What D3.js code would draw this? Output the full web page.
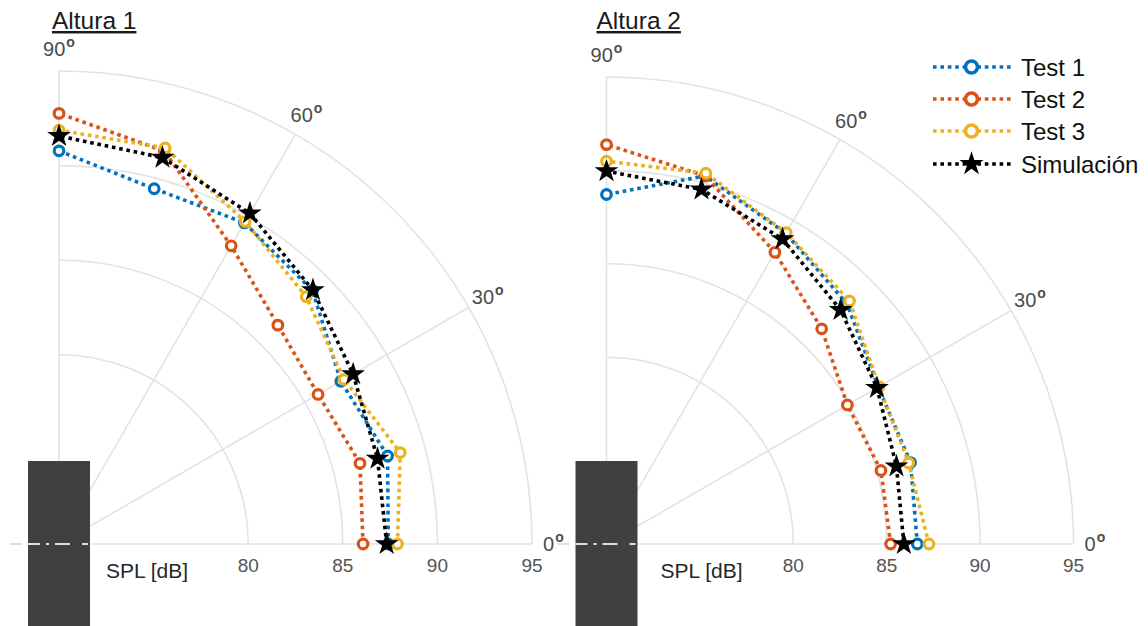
<!DOCTYPE html>
<html>
<head>
<meta charset="utf-8">
<script src="https://cdn.jsdelivr.net/npm/d3@7"></script>
<style>
  html, body { margin: 0; padding: 0; background: #fff; }
  svg { display: block; font-family: "Liberation Sans", Arial, sans-serif; }
</style>
</head>
<body>
<svg id="chart" width="1148" height="626"></svg>
<script>
// ---- data ----
const angles = [0, 15, 30, 45, 60, 75, 90];           // degrees
const seriesNames = ["Test 1", "Test 2", "Test 3", "Simulación"];
const radialTicks = [80, 85, 90, 95];
const angleTicks = [0, 30, 60, 90];
const panelTitles = ["Altura 1", "Altura 2"];

// Altura 1 (SPL dB)
const a1Test1 = [87.4, 87.98, 87.2, 88.95, 89.6, 89.44, 90.78];
const a1Test2 = [86.07, 86.47, 85.81, 86.36, 88.2, 91.5, 92.76];
const a1Test3 = [87.89, 88.67, 87.4, 88.48, 89.68, 91.67, 91.87];
const a1Sim   = [87.32, 87.43, 87.95, 88.98, 90.18, 91.14, 91.57];

// Altura 2 (SPL dB)
const a2Test1 = [86.64, 86.85, 86.8, 88.2, 89.2, 90.4, 88.71];
const a2Test2 = [85.21, 85.21, 84.89, 86.29, 88.03, 90.4, 91.38];
const a2Test3 = [87.26, 86.75, 86.85, 88.4, 89.24, 90.55, 90.49];
const a2Sim   = [85.92, 86.07, 86.72, 87.72, 88.85, 89.65, 89.96];

const rDomain = [70, 95];

// ---- styles ----
const colors = ["#0072BD", "#D95319", "#EDB120", "#000000"];
const gridColor = "#e3e3e3";

const svg = d3.select("#chart");

const panels = [
  { title: panelTitles[0], ox: 59, oy: 544, R: 473, splX: 47, titleX: -7, data: [a1Test1, a1Test2, a1Test3, a1Sim] },
  { title: panelTitles[1], ox: 606.5, oy: 544, R: 467, splX: 54, titleX: -10, data: [a2Test1, a2Test2, a2Test3, a2Sim] }
];

const rad = d => d * Math.PI / 180;

panels.forEach(p => {
  const g = svg.append("g").attr("transform", `translate(${p.ox},${p.oy})`);
  const r = d3.scaleLinear().domain(rDomain).range([0, p.R]);
  const px = (v, a) => r(v) * Math.cos(rad(a));
  const py = (v, a) => -r(v) * Math.sin(rad(a));

  // grid arcs
  const arc = d3.arc().startAngle(0).endAngle(Math.PI / 2);
  radialTicks.forEach(t => {
    g.append("path")
      .attr("d", arc({ innerRadius: r(t), outerRadius: r(t) }))
      .attr("fill", "none").attr("stroke", gridColor).attr("stroke-width", 1.6);
  });
  // radial spokes
  angleTicks.forEach(a => {
    g.append("line")
      .attr("x1", 0).attr("y1", 0)
      .attr("x2", px(rDomain[1], a)).attr("y2", py(rDomain[1], a))
      .attr("stroke", gridColor).attr("stroke-width", 1.6);
  });

  // angle labels
  angleTicks.forEach(a => {
    const extra = a === 0 ? 13 : 22;
    const rr = p.R + extra;
    const x = rr * Math.cos(rad(a)), y = -rr * Math.sin(rad(a));
    const t = g.append("text")
      .attr("x", x - (a === 0 ? 2 : 0)).attr("y", y + 7)
      .attr("text-anchor", a === 0 ? "start" : "middle")
      .attr("font-size", 20).attr("fill", "#4d4d4d");
    t.append("tspan").text(String(a));
    t.append("tspan").attr("font-size", 14).attr("font-weight", "bold").attr("dy", -9).attr("dx", 1).text("o");
  });

  // radial tick labels
  radialTicks.forEach(v => {
    g.append("text")
      .attr("x", r(v)).attr("y", 28)
      .attr("text-anchor", "middle").attr("font-size", 19).attr("fill", "#555")
      .text(v);
  });
  g.append("text")
    .attr("x", p.splX).attr("y", 34)
    .attr("font-size", 21).attr("fill", "#262626")
    .text("SPL [dB]");

  // dark block
  g.append("rect")
    .attr("x", -31).attr("y", -83).attr("width", 62).attr("height", 200)
    .attr("fill", "#404040");
  g.append("line")
    .attr("x1", -49).attr("y1", 0).attr("x2", 31).attr("y2", 0)
    .attr("stroke", "#e0e0e0").attr("stroke-width", 2)
    .attr("stroke-dasharray", "12,6,12,6,3,6,15");

  // title
  g.append("text")
    .attr("x", p.titleX).attr("y", -515)
    .attr("font-size", 24.5).attr("fill", "#1a1a1a")
    .attr("text-decoration", "underline")
    .text(p.title);

  // series
  const line = d3.line().x((d, i) => px(d, angles[i])).y((d, i) => py(d, angles[i]));
  p.data.forEach((vals, si) => {
    const sg = g.append("g");
    sg.append("path")
      .attr("d", line(vals))
      .attr("fill", "none").attr("stroke", colors[si])
      .attr("stroke-width", 3.6).attr("stroke-dasharray", "3.6,3.8");
    if (si < 3) {
      sg.selectAll("circle").data(vals).join("circle")
        .attr("cx", (d, i) => px(d, angles[i])).attr("cy", (d, i) => py(d, angles[i]))
        .attr("r", 4.8).attr("fill", "#fff")
        .attr("stroke", colors[si]).attr("stroke-width", 3.2);
    } else {
      sg.selectAll("path.star").data(vals).join("path").attr("class", "star")
        .attr("transform", (d, i) => `translate(${px(d, angles[i])},${py(d, angles[i])})`)
        .attr("d", d3.symbol(d3.symbolStar, 175)())
        .attr("fill", "#000");
    }
  });
});

// legend
const lg = svg.append("g").attr("transform", "translate(933,67)");
seriesNames.forEach((name, i) => {
  const y = i * 32 + (i === 3 ? 1 : 0);
  const row = lg.append("g").attr("transform", `translate(0,${y})`);
  row.append("line").attr("x1", 0).attr("x2", 80).attr("y1", 0).attr("y2", 0)
    .attr("stroke", colors[i]).attr("stroke-width", 3.6).attr("stroke-dasharray", "3.6,3.8");
  if (i < 3) {
    row.append("circle").attr("cx", 38.5).attr("cy", 0).attr("r", 6)
      .attr("fill", "#fff").attr("stroke", colors[i]).attr("stroke-width", 3.6);
  } else {
    row.append("path").attr("transform", "translate(38.5,0)")
      .attr("d", d3.symbol(d3.symbolStar, 180)()).attr("fill", "#000");
  }
  row.append("text").attr("x", 88).attr("y", 8.5)
    .attr("font-size", 24).attr("fill", "#111").text(name);
});
</script>
</body>
</html>
